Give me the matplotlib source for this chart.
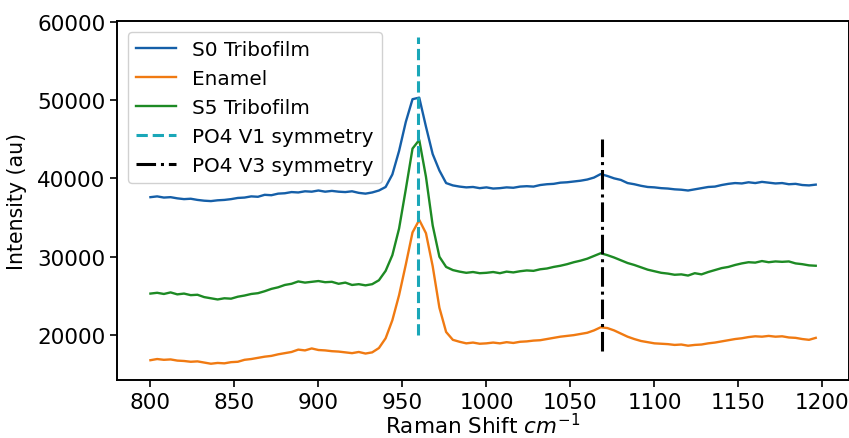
import numpy as np
import matplotlib
matplotlib.use("Agg")
import matplotlib.pyplot as plt

# Raman shift grid (cm^-1), one sample every 4 cm^-1
shift = np.arange(800, 1200, 4)

s0_tribofilm = [
    37600, 37700, 37550, 37600, 37450, 37350, 37400, 37250, 37150, 37100,
    37200, 37250, 37350, 37500, 37550, 37700, 37650, 37900, 37850, 38050,
    38100, 38250, 38200, 38350, 38300, 38450, 38300, 38400, 38300, 38250,
    38350, 38150, 38050, 38200, 38450, 38900, 40500, 43500, 47200, 50100,
    50300, 46600, 43100, 41000, 39400, 39100, 38950, 38850, 38900, 38750,
    38850, 38700, 38750, 38850, 38800, 38950, 39000, 38950, 39150, 39250,
    39300, 39450, 39500, 39600, 39700, 39850, 40100, 40550, 40300, 40000,
    39800, 39400, 39250, 39050, 38900, 38850, 38750, 38700, 38600, 38550,
    38450, 38600, 38750, 38900, 38950, 39150, 39300, 39400, 39350, 39500,
    39400, 39550, 39450, 39350, 39400, 39250, 39300, 39150, 39100, 39200,
]

enamel = [
    16800, 16950, 16850, 16900, 16750, 16700, 16600, 16650, 16500, 16350,
    16450, 16400, 16550, 16600, 16850, 16950, 17100, 17250, 17350, 17550,
    17700, 17850, 18150, 18050, 18300, 18100, 18050, 17950, 17900, 17800,
    17700, 17850, 17650, 17800, 18350, 19600, 21900, 25100, 29000, 33100,
    34700, 33000, 28800, 23500, 20400, 19400, 19150, 18950, 19050, 18900,
    18950, 19050, 18950, 19100, 19000, 19150, 19200, 19300, 19350, 19500,
    19650, 19800, 19900, 20000, 20150, 20300, 20600, 21000, 20900, 20600,
    20200, 19800, 19500, 19250, 19100, 18950, 18900, 18850, 18750, 18800,
    18650, 18750, 18800, 18950, 19050, 19200, 19350, 19500, 19600, 19750,
    19850, 19800, 19900, 19800, 19850, 19700, 19650, 19500, 19400, 19650,
]

s5_tribofilm = [
    25300, 25400, 25250, 25450, 25200, 25300, 25100, 25150, 24850, 24700,
    24550, 24700, 24650, 24900, 25050, 25250, 25350, 25600, 25900, 26100,
    26400, 26550, 26850, 26700, 26800, 26900, 26750, 26800, 26550, 26700,
    26400, 26500, 26350, 26500, 27000, 28200, 30200, 33600, 38600, 43800,
    44900, 40200, 34000, 30000, 28700, 28300, 28100, 27950, 28050, 27900,
    27950, 28050, 27900, 28100, 28000, 28150, 28250, 28200, 28400, 28500,
    28700, 28850, 29050, 29300, 29500, 29750, 30100, 30450, 30200, 29900,
    29550, 29200, 28950, 28650, 28350, 28150, 27950, 27850, 27700, 27750,
    27600, 27900, 27750, 28050, 28300, 28550, 28700, 28950, 29150, 29300,
    29250, 29450, 29300, 29400, 29350, 29400, 29150, 29050, 28900, 28850,
]

# PO4 band markers: position, bottom, top
v1_pos, v1_range = 959, (20000, 58000)
v3_pos, v3_range = 1069, (18000, 45000)

BLUE   = "#155fa8"
ORANGE = "#f07a12"
GREEN  = "#1d8a24"
CYAN   = "#1aa7b8"

plt.rcParams["font.family"] = "DejaVu Sans"

fig = plt.figure(figsize=(8.49, 4.39), dpi=100)
ax = fig.add_axes([0.138, 0.132, 0.862, 0.818])

ax.plot(shift, s0_tribofilm, color=BLUE, linewidth=1.7, label="S0 Tribofilm")
ax.plot(shift, enamel, color=ORANGE, linewidth=1.7, label="Enamel")
ax.plot(shift, s5_tribofilm, color=GREEN, linewidth=1.7, label="S5 Tribofilm")
ax.vlines(v1_pos, *v1_range, colors=CYAN, linestyles="--", linewidth=2.2,
          label="PO4 V1 symmetry")
ax.vlines(v3_pos, *v3_range, colors="black", linestyles="-.", linewidth=2.2,
          label="PO4 V3 symmetry")

ax.set_xlabel("Raman Shift $cm^{-1}$", fontsize=15.5, labelpad=0)
ax.set_ylabel("Intensity (au)", fontsize=14.8, labelpad=7)
ax.tick_params(labelsize=15.5, width=1.2, length=5)
for sp in ax.spines.values():
    sp.set_linewidth(1.4)

ax.legend(loc="upper left", fontsize=14.4, handlelength=2.0, framealpha=0.9,
          edgecolor="#cccccc", borderaxespad=0.55)

plt.savefig("out.png", dpi=100)
